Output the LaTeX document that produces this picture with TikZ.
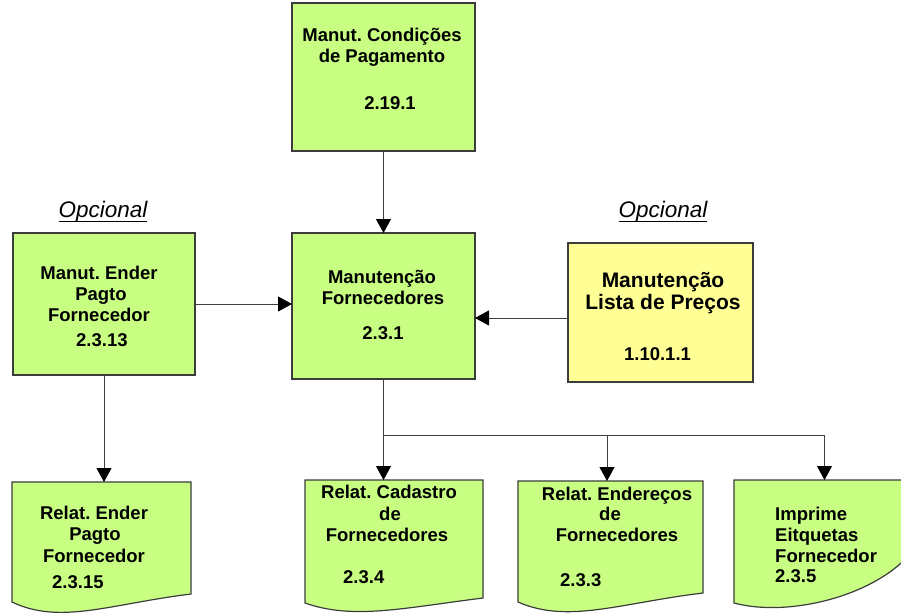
\documentclass[tikz,border=0pt]{standalone}
\usepackage{fontspec}
\setmainfont{Liberation Sans}
\usetikzlibrary{arrows.meta,calc}
\frenchspacing

\definecolor{procgreen}{RGB}{200,255,130}
\definecolor{procyellow}{RGB}{255,255,150}
\definecolor{edgegray}{RGB}{60,60,60}

% underlined caption text
\newcommand\opclabel[1]{\setbox0=\hbox{#1}\copy0\llap{\rule[-5pt]{\wd0}{1.5pt}}}

\tikzset{
  procbox/.style={rectangle, draw=edgegray, line width=1.2pt, fill=procgreen,
    inner sep=0pt, outer sep=0pt},
  optbox/.style={procbox, fill=procyellow},
  docanchor/.style={rectangle, inner sep=0pt, outer sep=0pt},
  docshape/.style={draw=edgegray, line width=1.2pt, fill=procgreen},
  txt/.style={inner sep=0pt, anchor=base, font=\fontsize{18.5}{21}\selectfont\bfseries},
  txtl/.style={txt, anchor=base west},
  bigtxt/.style={txt, font=\fontsize{21}{24}\selectfont\bfseries},
  opctxt/.style={inner sep=0pt, anchor=base, font=\fontsize{22.5}{26}\selectfont\itshape},
  conn/.style={draw=black!75, line width=1pt,
    -{Triangle[width=15pt,length=14pt,color=black,fill=black]}},
}

\begin{document}
\begin{tikzpicture}[x=1pt,y=-1pt]
\useasboundingbox (0,0) rectangle (901,615);
\clip (0,0) rectangle (901,615);

% process boxes
\node[procbox, minimum width=183pt, minimum height=148pt] (pay) at (383.5,77) {};
\node[procbox, minimum width=183pt, minimum height=146pt] (forn) at (383.5,306) {};
\node[procbox, minimum width=182pt, minimum height=142pt] (ender) at (104,304) {};
\node[optbox, minimum width=185pt, minimum height=139pt] (preco) at (660.5,312.5) {};

% report (document) shapes: anchor rectangle plus wavy bottom outline
\node[docanchor, minimum width=179pt, minimum height=112pt] (doc1) at (101.5,538) {};
\node[docanchor, minimum width=178pt, minimum height=118pt] (doc2) at (394,539) {};
\node[docanchor, minimum width=185pt, minimum height=112pt] (doc3) at (610.5,537) {};
\node[docanchor, minimum width=181pt, minimum height=68pt] (doc4) at (824.5,514) {};

\path[docshape] (doc1.north west) -- (doc1.north east) -- (doc1.south east)
  .. controls ($(doc1.south east)+(-81,10)$) and ($(doc1.south west)+(48,31)$)
  .. ($(doc1.south west)+(0,8)$) -- cycle;
\path[docshape] (doc2.north west) -- (doc2.north east) -- (doc2.south east)
  .. controls ($(doc2.south east)+(-80,10)$) and ($(doc2.south west)+(48,22)$)
  .. ($(doc2.south west)+(0,5)$) -- cycle;
\path[docshape] (doc3.north west) -- (doc3.north east) -- (doc3.south east)
  .. controls ($(doc3.south east)+(-83,10)$) and ($(doc3.south west)+(50,31)$)
  .. ($(doc3.south west)+(0,9)$) -- cycle;
\path[docshape] (doc4.north west) -- (doc4.north east) -- (doc4.south east)
  .. controls ($(doc4.south east)+(-35,47)$) and ($(doc4.south west)+(56,70)$)
  .. ($(doc4.south west)+(0,55)$) -- cycle;

% texts
\node[txt] (tpay1) at (382,42) {Manut. Condições};
\node[txt] (tpay2) at (382,63) {de Pagamento};
\node[txt] (tpay3) at (390,110) {2.19.1};

\node[txt] (tforn1) at (382,283) {Manutenção};
\node[txt] (tforn2) at (383,304) {Fornecedores};
\node[txt] (tforn3) at (383,339) {2.3.1};

\node[txt] (tend1) at (99,279) {Manut. Ender};
\node[txt] (tend2) at (101,300) {Pagto};
\node[txt] (tend3) at (99,321) {Fornecedor};
\node[txtl] (tend4) at (76,346) {2.3.13};

\node[bigtxt] (tpre1) at (663,287) {Manutenção};
\node[bigtxt] (tpre2) at (663,309) {Lista de Preços};
\node[txt] (tpre3) at (657.5,360) {1.10.1.1};

\node[txt] (td11) at (94,519) {Relat. Ender};
\node[txt] (td12) at (95,540) {Pagto};
\node[txt] (td13) at (94,562) {Fornecedor};
\node[txtl] (td14) at (52,588) {2.3.15};

\node[txt] (td21) at (389,498) {Relat. Cadastro};
\node[txt] (td22) at (390,520) {de};
\node[txt] (td23) at (387,541) {Fornecedores};
\node[txtl] (td24) at (343,583) {2.3.4};

\node[txt] (td31) at (617,500) {Relat. Endereços};
\node[txt] (td32) at (610,520) {de};
\node[txt] (td33) at (617,541) {Fornecedores};
\node[txtl] (td34) at (560,586) {2.3.3};

\node[txtl] (td41) at (775,520) {Imprime};
\node[txtl] (td42) at (775,541) {Eitquetas};
\node[txtl] (td43) at (775,562) {Fornecedor};
\node[txtl] (td44) at (775,582) {2.3.5};

\node[opctxt] (opc1) at (103,217) {\opclabel{Opcional}};
\node[opctxt] (opc2) at (663,217) {\opclabel{Opcional}};

% connectors
\draw[conn] (pay.south) -- (forn.north);
\draw[conn] (ender.east) -- (ender.east -| forn.west);
\coordinate (prein) at ($(preco.west)+(0,5.5)$);
\draw[conn] (prein) -- (prein -| forn.east);
\draw[conn] (ender.south) -- (ender.south |- doc1.north);
\draw[conn] (forn.south) -- (forn.south |- doc2.north);
\coordinate (split) at ($(forn.south)+(0,56)$);
\coordinate (d3in) at ($(doc3.north)+(-3.5,0)$);
\draw[conn] (split) -| (doc4.north);
\draw[conn] (split -| d3in) -- (d3in);
\end{tikzpicture}
\end{document}
